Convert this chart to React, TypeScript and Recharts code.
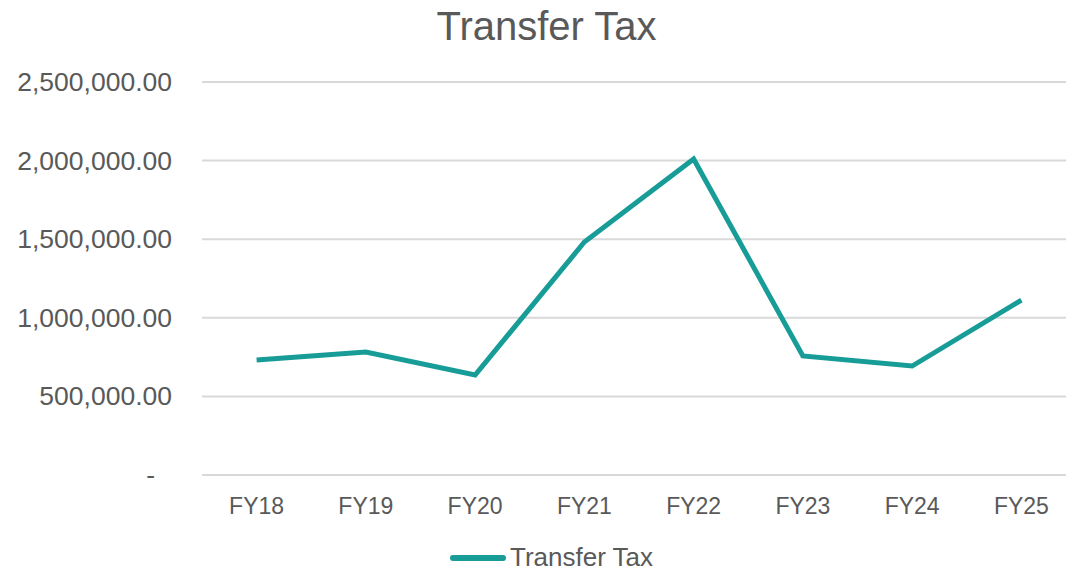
import { CartesianGrid, Line, LineChart, XAxis, YAxis } from "recharts";

const years = ["FY18", "FY19", "FY20", "FY21", "FY22", "FY23", "FY24", "FY25"];
const transferTax = [731000, 782000, 636000, 1482000, 2010000, 757000, 693000, 1113000];
const yTicks = [0, 500000, 1000000, 1500000, 2000000, 2500000];

const seriesName = "Transfer Tax";
const lineColor = "#179c97";
const textColor = "#595959";
const font = "'Liberation Sans', Arial, sans-serif";

const data = years.map((fy, i) => ({ fy, value: transferTax[i] }));

function YTick(props: any) {
    const { x, y, payload } = props;
    const v = payload.value;
    const label = v === 0 ? "-" : v.toLocaleString("en-US", { minimumFractionDigits: 2, maximumFractionDigits: 2 });
    return (
        <text x={v === 0 ? x - 17 : x} y={y} dy={9} textAnchor="end" fill={textColor} fontSize={26.5} fontFamily={font}>
            {label}
        </text>
    );
}

function App() {
    return (
        <div style={{ position: "absolute", left: 0, top: 0, width: 1066, height: 571, overflow: "hidden", background: "#fff" }}>
            <div style={{ position: "absolute", left: 0, top: 4, width: 1093, textAlign: "center", fontFamily: font, fontSize: 40, color: textColor }}>
                {seriesName}
            </div>
            <LineChart width={1080} height={571} data={data} margin={{ top: 82, right: 4, left: 2, bottom: 66 }}>
                <CartesianGrid vertical={false} stroke="#d9d9d9" strokeWidth={2} />
                <XAxis
                    dataKey="fy"
                    tickLine={false}
                    axisLine={{ stroke: "#d9d9d9", strokeWidth: 2 }}
                    tickMargin={17}
                    padding={{ left: 54.6, right: 54.6 }}
                    tick={{ fill: textColor, fontSize: 23, fontFamily: font }}
                    interval={0}
                />
                <YAxis
                    width={200}
                    domain={[0, 2500000]}
                    ticks={yTicks}
                    tickLine={false}
                    axisLine={false}
                    tickMargin={24}
                    tick={<YTick />}
                />
                <Line type="linear" dataKey="value" name={seriesName} stroke={lineColor} strokeWidth={5} dot={false} isAnimationActive={false} />
            </LineChart>
            <div style={{ position: "absolute", left: 450, top: 542, display: "flex", alignItems: "center", fontFamily: font, fontSize: 26, color: textColor }}>
                <span style={{ display: "inline-block", width: 56, height: 6, borderRadius: 3, background: lineColor, marginRight: 4 }} />
                <span>{seriesName}</span>
            </div>
        </div>
    );
}

export default App;
